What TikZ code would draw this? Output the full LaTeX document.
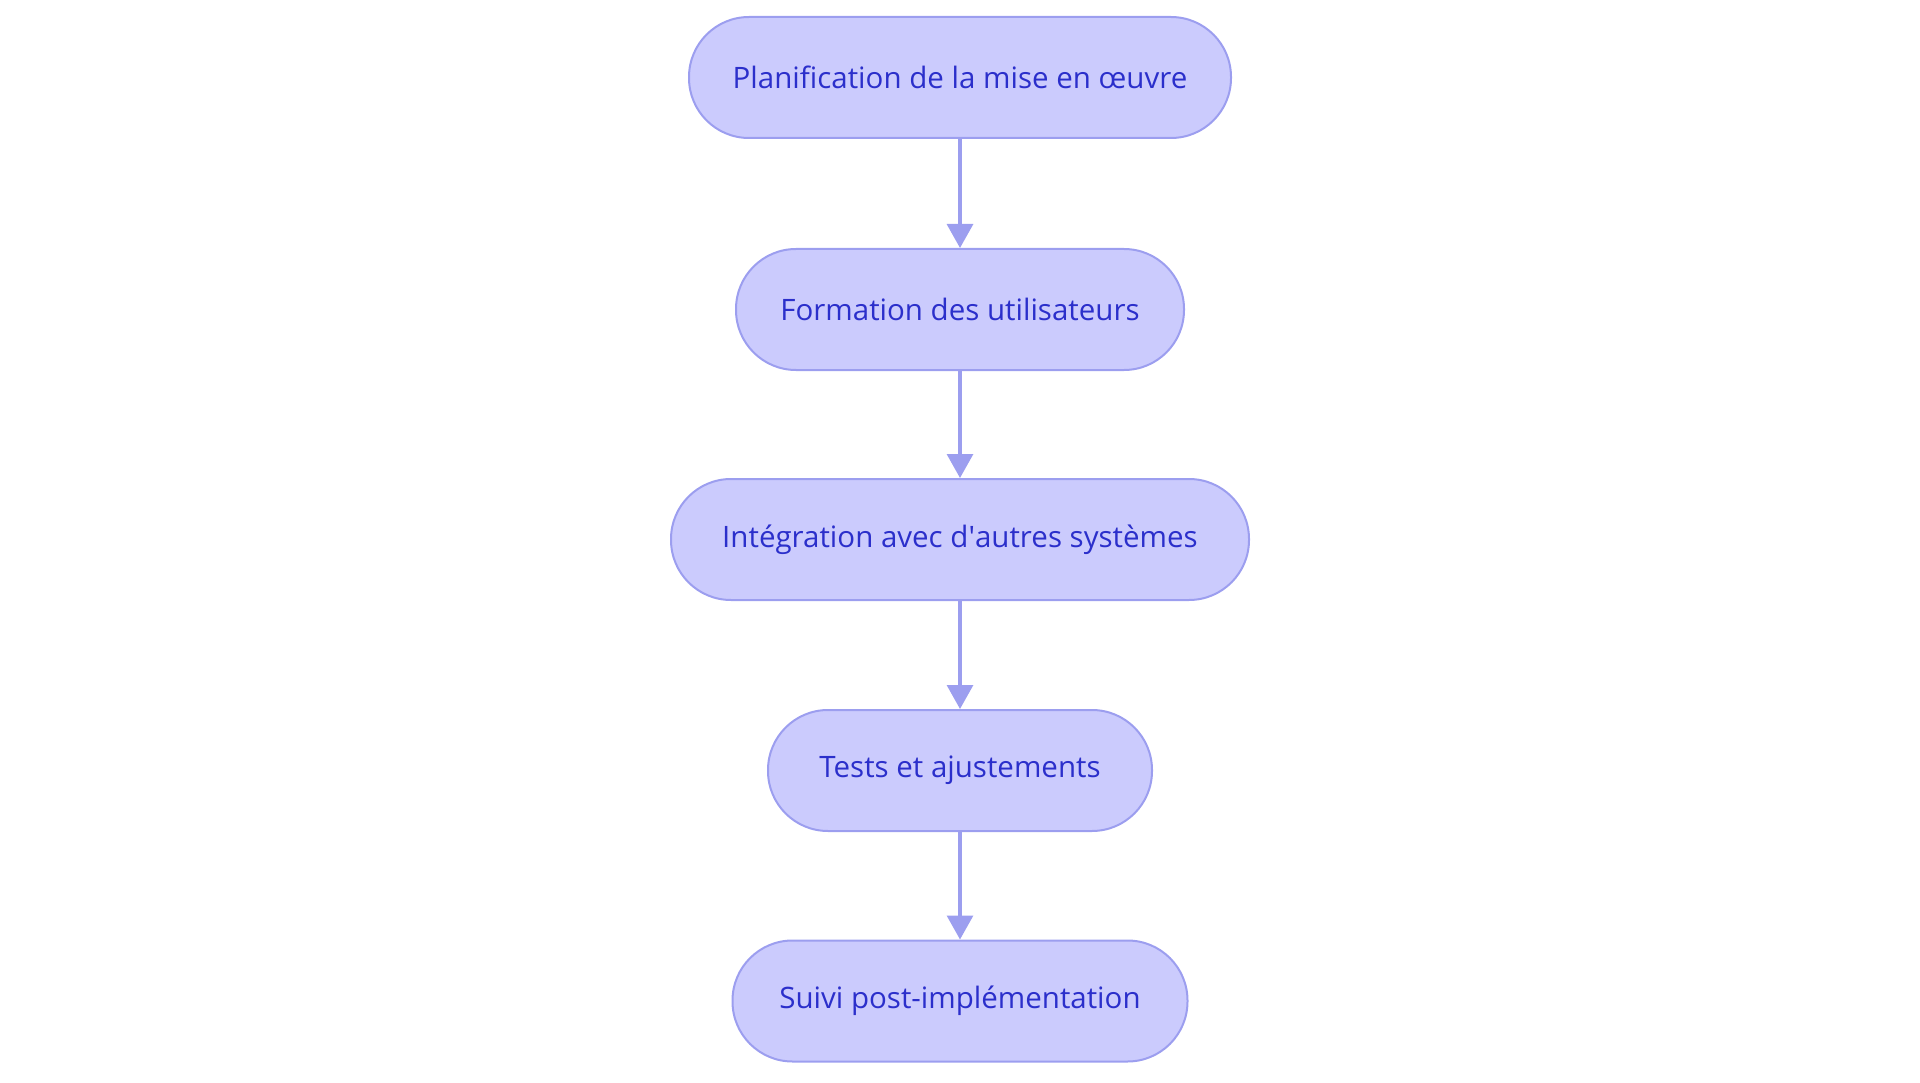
\documentclass[tikz,border=0pt]{standalone}
\usepackage{fontspec}
\setmainfont{Open Sans}
\newcommand{\straightquote}{\XeTeXglyph\the\XeTeXcharglyph"27\relax}
\usetikzlibrary{arrows.meta}
\definecolor{boxfill}{HTML}{CBCBFD}
\definecolor{boxline}{HTML}{9C9EEF}
\definecolor{boxtext}{HTML}{2B2FCB}
\tikzset{
  stepbox/.style={draw=boxline, line width=2pt, fill=boxfill, rounded corners=60pt,
    minimum height=121pt, inner sep=0pt, text=boxtext,
    font=\fontsize{29.5}{33}\selectfont},
  flow/.style={draw=boxline, line width=3.2pt, -{Triangle[width=26pt,length=24pt]}}
}
\begin{document}
\begin{tikzpicture}[x=1pt,y=-1pt]
\useasboundingbox (0,0) rectangle (1920,1083);
\node[stepbox, minimum width=542pt] (n1) at (960,77.5) {Planification de la mise en œuvre};
\node[stepbox, minimum width=448pt] (n2) at (960,309.5) {Formation des utilisateurs};
\node[stepbox, minimum width=578pt] (n3) at (960,539.5) {Intégration avec d\straightquote autres systèmes};
\node[stepbox, minimum width=384pt] (n4) at (960,770.5) {Tests et ajustements};
\node[stepbox, minimum width=455pt] (n5) at (960,1001) {Suivi post-implémentation};
\draw[flow] (n1) -- (n2);
\draw[flow] (n2) -- (n3);
\draw[flow] (n3) -- (n4);
\draw[flow] (n4) -- (n5);
\end{tikzpicture}
\end{document}
